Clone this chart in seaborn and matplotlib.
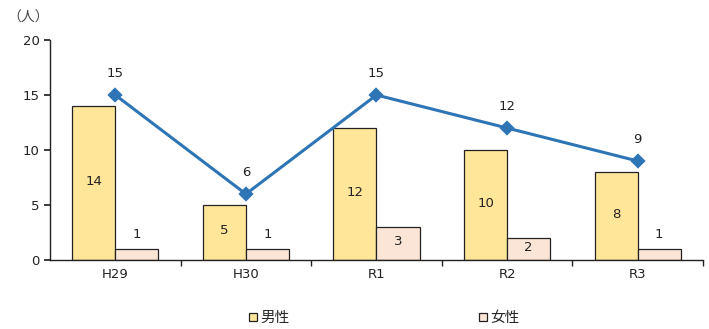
import matplotlib
matplotlib.use("Agg")
import matplotlib.pyplot as plt
import seaborn as sns
import pandas as pd
from matplotlib.patches import Patch
from matplotlib.font_manager import FontProperties

categories = ["H29", "H30", "R1", "R2", "R3"]
male = [14, 5, 12, 10, 8]
female = [1, 1, 3, 2, 1]
total = [15, 6, 15, 12, 9]
series_names = ["男性", "女性"]
y_ticks = [0, 5, 10, 15, 20]

sns.set_theme(style="white")
plt.rcParams["font.family"] = ["DejaVu Sans", "Noto Sans CJK JP"]

df = pd.DataFrame({
    "cat": categories * 2,
    "val": male + female,
    "sex": [series_names[0]] * len(categories) + [series_names[1]] * len(categories),
})

fig = plt.figure(figsize=(7.09, 3.29), dpi=100)
ax = fig.add_axes([0.0705, 0.2097, 0.921, 0.6687])

colors = {"男性": "#FFE699", "女性": "#FBE5D6"}
sns.barplot(data=df, x="cat", y="val", hue="sex", palette=colors, width=0.66,
            gap=0, edgecolor="#222222", linewidth=0.9, ax=ax, legend=False,
            order=categories, hue_order=series_names, saturation=1)

sns.pointplot(x=categories, y=total, color="#2E75B6", markers="D",
              markersize=6, linewidth=2.2, ax=ax, order=categories)

fs = 9.5
# bar labels
for cont, vals in zip(ax.containers[:2], [male, female]):
    for rect, v in zip(cont, vals):
        cx = rect.get_x() + rect.get_width() / 2
        if v >= 2:
            ax.text(cx, v / 2 + 0.15, str(v), ha="center", va="center", fontsize=fs, color="#222222")
        else:
            ax.text(cx, v + 1.3, str(v), ha="center", va="center", fontsize=fs, color="#222222")

for i, v in enumerate(total):
    ax.text(i, v + 2.0, str(v), ha="center", va="center", fontsize=fs, color="#222222")

ax.set_ylim(0, 20)
ax.set_xlim(-0.5, 4.5)
ax.set_yticks(y_ticks)
ax.set_xlabel("")
ax.set_ylabel("")
for s in ["top", "right"]:
    ax.spines[s].set_visible(False)
ax.spines["left"].set_color("#222222")
ax.spines["bottom"].set_color("#222222")
ax.spines["left"].set_linewidth(1)
ax.spines["bottom"].set_linewidth(1)
ax.tick_params(axis="y", direction="out", length=4, color="#222222", labelsize=fs, labelcolor="#222222", left=True)
ax.tick_params(axis="x", which="major", length=0, labelsize=fs, labelcolor="#222222", pad=6)
ax.set_xticks([0.5, 1.5, 2.5, 3.5, 4.5], minor=True)
ax.tick_params(axis="x", which="minor", direction="out", length=4, color="#222222", bottom=True)
ax.grid(False)

fig.text(0.010, 0.945, "（人）", color="#444444", va="center",
         fontproperties=FontProperties(family="Noto Sans CJK JP", size=10))

handles = [Patch(facecolor=colors[n], edgecolor="#222222", linewidth=0.9) for n in series_names]
fig.legend(handles, series_names, loc="center", bbox_to_anchor=(0.542, 0.033), ncol=2,
           frameon=False, prop={"family": ["Noto Sans CJK JP"], "size": 10.5},
           handlelength=0.55, handleheight=0.55,
           handletextpad=0.2, columnspacing=13.0)

fig.savefig("out.png", dpi=100)
